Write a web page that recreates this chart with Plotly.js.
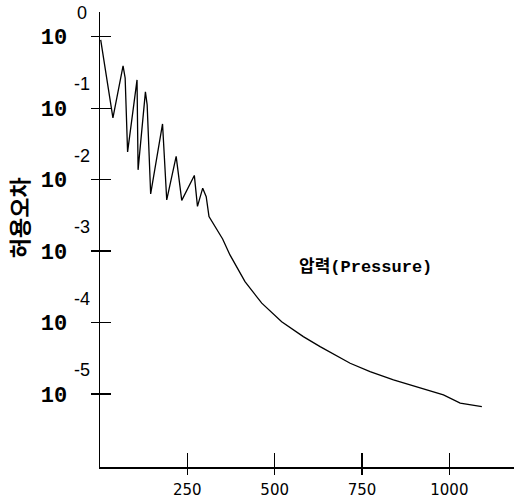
<!DOCTYPE html>
<html>
<head>
<meta charset="utf-8">
<script src="https://cdn.plot.ly/plotly-3.0.1.min.js"></script>
<style>
  html, body { margin: 0; padding: 0; background: #fff; }
  #chart { width: 516px; height: 502px; }
</style>
</head>
<body>
<div id="chart"></div>
<script>
// ---- data ----
const iterations = [2, 37, 66, 72, 79, 106, 109, 130, 135, 145, 179, 191, 218, 234, 270, 279, 294, 304, 312, 329, 351, 372, 415, 463, 520, 582, 630, 716, 773, 840, 907, 983, 1031, 1093];
const pressureError = [0.9, 0.073, 0.389, 0.264, 0.0244, 0.248, 0.0137, 0.169, 0.111, 0.0063, 0.0601, 0.0052, 0.0211, 0.00512, 0.01145, 0.00422, 0.00759, 0.00578, 0.00304, 0.00218, 0.00148, 0.000885, 0.000374, 0.000187, 0.000103, 0.0000637, 0.0000461, 0.000027, 0.0000206, 0.0000158, 0.0000127, 0.00000975, 0.00000746, 0.00000668];

const xTickVals = [250, 500, 750, 1000];
const xTickText = ['250', '500', '750', '1000'];
const yTickVals = [1, 0.1, 0.01, 0.001, 0.0001, 0.00001];
const yTickBase = ['10', '10', '10', '10', '10', '10'];
const yExponents = ['0', '-1', '-2', '-3', '-4', '-5'];
const yTitle = '허용오차';
const seriesLabel = '압력(Pressure)';

const xRange = [0, 1185];
const yRange = [-6.02, 0.345];

const traces = [
  {
    x: iterations, y: pressureError, type: 'scatter', mode: 'lines',
    line: { color: '#000', width: 1.3 }, hoverinfo: 'skip', showlegend: false
  },
  {
    x: iterations, y: pressureError, type: 'scatter', mode: 'lines',
    xaxis: 'x2', yaxis: 'y2',
    line: { color: 'rgba(0,0,0,0)', width: 0 }, hoverinfo: 'skip', showlegend: false
  }
];

const annotations = yExponents.map((e, i) => ({
  text: e, xref: 'paper', yref: 'y', x: -0.0435, y: Math.log10(yTickVals[i]),
  yshift: 24, showarrow: false, xanchor: 'center', yanchor: 'middle',
  font: { family: 'Liberation Sans, Arial, sans-serif', size: 18, color: '#000' }
}));
annotations.push({
  text: '<b>' + yTitle + '</b>', xref: 'paper', yref: 'paper', x: -0.198, y: 0.547,
  textangle: -90, showarrow: false, xanchor: 'center', yanchor: 'middle',
  font: { family: 'Noto Sans CJK KR, sans-serif', size: 22, color: '#000' }
});
annotations.push({
  text: '<b>' + seriesLabel + '</b>', xref: 'x', yref: 'y', x: 760, y: -3.22,
  showarrow: false, xanchor: 'center', yanchor: 'middle',
  font: { family: 'Liberation Mono, Noto Sans CJK KR, monospace', size: 17, color: '#000' }
});

const layout = {
  width: 516, height: 502,
  margin: { l: 100, r: 2, t: 12, b: 35, pad: 0 },
  paper_bgcolor: '#fff', plot_bgcolor: '#fff',
  showlegend: false,
  xaxis: {
    range: xRange, showgrid: false, zeroline: false,
    showline: true, linecolor: '#000', linewidth: 1.5,
    tickmode: 'array', tickvals: xTickVals, ticktext: xTickText,
    ticks: 'outside', ticklen: 6, tickwidth: 1.3, tickcolor: '#000',
    ticklabelstandoff: 2,
    tickfont: { family: 'DejaVu Sans, sans-serif', size: 15, color: '#000' }
  },
  yaxis: {
    type: 'log', range: yRange, showgrid: false, zeroline: false,
    showline: true, linecolor: '#000', linewidth: 1.5,
    tickmode: 'array', tickvals: yTickVals, ticktext: yTickBase.map(t => '<b>' + t + '</b>'),
    ticks: 'outside', ticklen: 8, tickwidth: 1.3, tickcolor: '#000',
    ticklabelstandoff: 19,
    tickfont: { family: 'Liberation Mono, monospace', size: 22, color: '#000' }
  },
  xaxis2: {
    overlaying: 'x', anchor: 'y2', side: 'bottom', range: xRange,
    showgrid: false, zeroline: false, showline: false,
    tickmode: 'array', tickvals: xTickVals, showticklabels: false,
    ticks: 'inside', ticklen: 14, tickwidth: 1.3, tickcolor: '#000'
  },
  yaxis2: {
    overlaying: 'y', anchor: 'x2', side: 'left', type: 'log', range: yRange,
    showgrid: false, zeroline: false, showline: false,
    tickmode: 'array', tickvals: yTickVals, showticklabels: false,
    ticks: 'inside', ticklen: 11, tickwidth: 1.3, tickcolor: '#000'
  },
  annotations: annotations
};

Plotly.newPlot('chart', traces, layout, { displayModeBar: false, staticPlot: true });
</script>
</body>
</html>
